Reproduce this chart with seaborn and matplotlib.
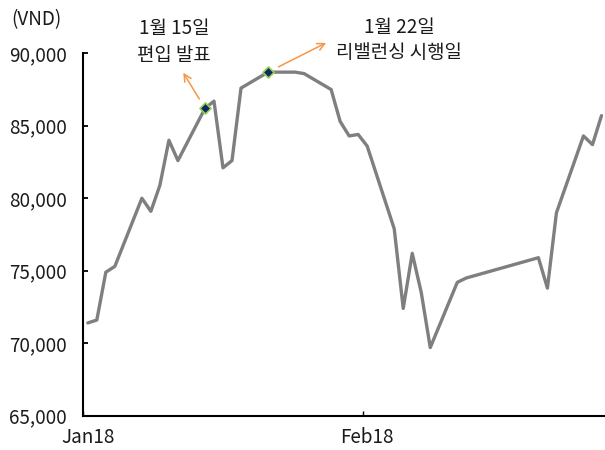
import matplotlib
matplotlib.use("Agg")
import matplotlib.pyplot as plt
import matplotlib.dates as mdates
import matplotlib.ticker as mticker
import seaborn as sns
import pandas as pd

# Trading days (VND closing price)
dates = [
    "2018-01-02", "2018-01-03", "2018-01-04", "2018-01-05", "2018-01-08",
    "2018-01-09", "2018-01-10", "2018-01-11", "2018-01-12", "2018-01-15",
    "2018-01-16", "2018-01-17", "2018-01-18", "2018-01-19", "2018-01-22",
    "2018-01-23", "2018-01-24", "2018-01-25", "2018-01-26", "2018-01-29",
    "2018-01-30", "2018-01-31", "2018-02-01", "2018-02-02", "2018-02-05",
    "2018-02-06", "2018-02-07", "2018-02-08", "2018-02-09", "2018-02-12",
    "2018-02-13", "2018-02-21", "2018-02-22", "2018-02-23", "2018-02-26",
    "2018-02-27", "2018-02-28",
]
prices = [
    71400, 71600, 74900, 75300, 80000,
    79100, 80900, 84000, 82600, 86200,
    86700, 82100, 82600, 87600, 88700,
    88700, 88700, 88700, 88600, 87500,
    85300, 84300, 84400, 83600, 77900,
    72400, 76200, 73500, 69700, 74200,
    74500, 75900, 73800, 79000, 84300,
    83700, 85700,
]
event_dates = ["2018-01-15", "2018-01-22"]
event_titles = ["1월 15일", "1월 22일"]
event_notes = ["편입 발표", "리밸런싱 시행일"]
y_ticks = [65000, 70000, 75000, 80000, 85000, 90000]
x_tick_dates = ["2018-01-02", "2018-02-02"]
x_tick_labels = ["Jan18", "Feb18"]

sns.set_theme(style="white")
plt.rcParams["font.family"] = ["Noto Sans CJK KR", "DejaVu Sans"]

df = pd.DataFrame({"date": pd.to_datetime(dates), "price": prices})
# each day occupies a slot; points sit in the middle of their day
df["pos"] = mdates.date2num(df["date"]) + 0.5

fig = plt.figure(figsize=(6.05, 4.5), dpi=100)
ax = fig.add_axes([83.3 / 605, 34.3 / 450, (606 - 83.3) / 605, (415.7 - 53.3) / 450])

sns.lineplot(data=df, x="pos", y="price", ax=ax, color="#7f7f7f", linewidth=2.4)

ev = df[df["date"].isin(pd.to_datetime(event_dates))]
sns.scatterplot(data=ev, x="pos", y="price", ax=ax, marker="D", s=32,
                color="#0b2a66", edgecolor="#9bcf53", linewidth=1.2, zorder=5)

ax.set_ylim(y_ticks[0], y_ticks[-1])
ax.set_yticks(y_ticks)
ax.yaxis.set_major_formatter(mticker.FuncFormatter(lambda v, p: f"{int(v):,}"))

x0 = mdates.date2num(pd.Timestamp("2018-01-02"))
x1 = mdates.date2num(pd.Timestamp("2018-03-01"))
ax.set_xlim(x0, x1)
tick_pos = [mdates.date2num(pd.Timestamp(d)) for d in x_tick_dates]
ax.set_xticks([t + 0.5 for t in tick_pos])
ax.set_xticklabels(x_tick_labels)
ax.set_xticks(tick_pos, minor=True)

ax.set_xlabel("")
ax.set_ylabel("")
for s in ["top", "right"]:
    ax.spines[s].set_visible(False)
for s in ["left", "bottom"]:
    ax.spines[s].set_color("black")
    ax.spines[s].set_linewidth(1.5)

text_color = "#1a1a1a"
fs = 13.6
ax.tick_params(axis="y", direction="in", length=3.5, width=1.3, color="black",
               labelsize=fs, labelcolor=text_color, pad=12, left=True)
ax.tick_params(axis="x", which="major", length=0, labelsize=fs,
               labelcolor=text_color, pad=8)
ax.tick_params(axis="x", which="minor", direction="in", length=3.5, width=1.0,
               color="black", bottom=True)

fig.text(36 / 605, 1 - 20 / 450, "(VND)", ha="center", va="center",
         fontsize=fs, color=text_color)

# callouts for the two event days
arrow_color = "#f79646"
head_offsets = [(-15.6, 25.7), (41.8, 21.1)]
title_offsets = [(-22.1, 57.4), (94.3, 31.9)]
note_offsets = [(-22.1, 38.0), (94.3, 13.9)]
gaps = [7.9, 8.4]
for (_, row), title, note, ho, t1, t2, g in zip(
        ev.iterrows(), event_titles, event_notes,
        head_offsets, title_offsets, note_offsets, gaps):
    pt = (row["pos"], row["price"])
    ax.annotate("", xy=pt, xytext=ho, textcoords="offset points",
                arrowprops=dict(arrowstyle="<-", color=arrow_color, lw=1.1,
                                shrinkA=0, shrinkB=g, mutation_scale=13),
                annotation_clip=False)
    for txt, off in ((title, t1), (note, t2)):
        ax.annotate(txt, xy=pt, xytext=off, textcoords="offset points",
                    ha="center", va="center", fontsize=fs, color=text_color,
                    annotation_clip=False)

fig.savefig("out.png", dpi=100)
